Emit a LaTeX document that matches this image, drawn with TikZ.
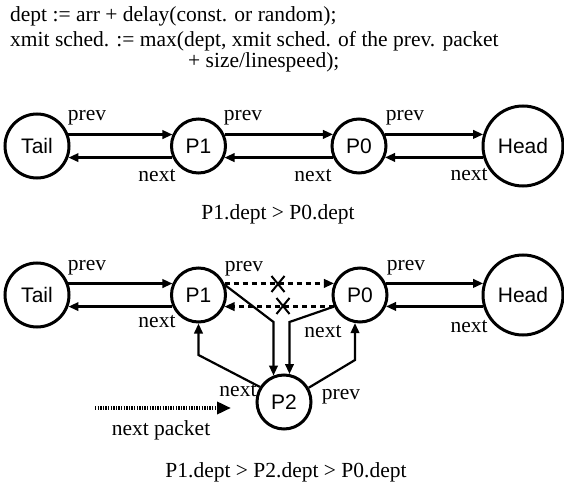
\documentclass[tikz,border=0pt]{standalone}
\usepackage{fontspec}
\setmainfont{Liberation Serif}
\newfontfamily\nodefont{Liberation Sans}
\usetikzlibrary{arrows.meta}
\begin{document}
\begin{tikzpicture}[x=1pt,y=-1pt,
  txt/.style={inner sep=0pt, font=\fontsize{21.5}{26}\selectfont},
  circ/.style={circle, draw, line width=3pt, inner sep=0pt, font=\nodefont\fontsize{21}{25}\selectfont},
  pnode/.style={circ, minimum size=54pt},
  tailnode/.style={circ, minimum size=64pt},
  headnode/.style={circ, minimum size=80pt},
  link/.style={line width=2.2pt, -{Triangle[length=10pt,width=8.5pt]}},
  dlink/.style={link, dash pattern=on 5pt off 4pt},
  cross/.style={line width=2pt},
  dotlink/.style={line width=4.5pt, dash pattern=on 1.4pt off 1.2pt, -{Triangle[length=14pt,width=12pt]}},
]
\useasboundingbox (0,0) rectangle (564,486);

% header
\node[txt, anchor=base west] (l1) at (10,22) {dept := arr + delay(const. or random);};
\node[txt, anchor=base west] (l2) at (10,47) {xmit sched. := max(dept, xmit sched. of the prev. packet};
\node[txt, anchor=base west] (l3) at (188,68) {+ size/linespeed);};

% top diagram
\node[tailnode] (tail) at (37,146) {Tail};
\node[pnode] (p1) at (198.5,146) {P1};
\node[pnode] (p0) at (359,146) {P0};
\node[headnode] (head) at (523,146) {Head};

\draw[link] (tail.20) -- (tail.20 -| p1.156);
\draw[link] (p1.204) -- (p1.204 -| tail.340);
\draw[link] (p1.24) -- (p1.24 -| p0.156);
\draw[link] (p0.204) -- (p0.204 -| p1.336);
\draw[link] (p0.24) -- (p0.24 -| head.164);
\draw[link] (head.196) -- (head.196 -| p0.336);

\node[txt] (tp1) at (87,118) {prev};
\node[txt] (tp2) at (243,118) {prev};
\node[txt] (tp3) at (405,118) {prev};
\node[txt] (tn1) at (157,176) {next};
\node[txt] (tn2) at (313,176) {next};
\node[txt] (tn3) at (469,175) {next};
\node[txt] (cap1) at (278,214) {P1.dept > P0.dept};

% bottom diagram
\node[tailnode] (tailb) at (37,295) {Tail};
\node[pnode] (p1b) at (198.5,295) {P1};
\node[pnode] (p0b) at (360,295) {P0};
\node[headnode] (headb) at (523,295) {Head};
\node[pnode] (p2) at (284,402) {P2};

\draw[link] (tailb.20) -- (tailb.20 -| p1b.156);
\draw[link] (p1b.204) -- (p1b.204 -| tailb.340);
\draw[dlink] (p1b.24) -- (p1b.24 -| p0b.156);
\draw[dlink] (p0b.204) -- (p0b.204 -| p1b.336);
\draw[link] (p0b.24) -- (p0b.24 -| headb.164);
\draw[link] (headb.196) -- (headb.196 -| p0b.336);

\coordinate (xa) at (278,284);
\coordinate (xb) at (283,306);
\draw[cross] ([shift={(-6.5pt,8pt)}]xa) -- ([shift={(6.5pt,-8pt)}]xa);
\draw[cross] ([shift={(-6.5pt,-8pt)}]xa) -- ([shift={(6.5pt,8pt)}]xa);
\draw[cross] ([shift={(-6.5pt,8pt)}]xb) -- ([shift={(6.5pt,-8pt)}]xb);
\draw[cross] ([shift={(-6.5pt,-8pt)}]xb) -- ([shift={(6.5pt,8pt)}]xb);

\coordinate (b1) at (273.5,322);
\coordinate (b2) at (289.5,322);
\coordinate (b3) at (198.5,355);
\coordinate (b4) at (355,360);
\draw[link] (p1b.20) -- (b1) -- (b1 |- p2.112);
\draw[link] (p0b.204) -- (b2) -- (b2 |- p2.79);
\draw[link] (p2.148) -- (b3) -- (p1b.south);
\draw[link] (p2.30) -- (b4) -- (b4 |- p0b.260);

\coordinate (np) at (95,408);
\coordinate (npe) at (231,408);
\draw[dotlink] (np) -- (npe);

\node[txt] (bp1) at (87,268) {prev};
\node[txt] (bp2) at (244,269) {prev};
\node[txt] (bp3) at (406,268) {prev};
\node[txt] (bn1) at (157,322) {next};
\node[txt] (bn2) at (323,332) {next};
\node[txt] (bn3) at (469,327) {next};
\node[txt] (bn4) at (238,391) {next};
\node[txt] (bp4) at (341,397) {prev};
\node[txt] (npl) at (161,430) {next packet};
\node[txt] (cap2) at (286,472) {P1.dept > P2.dept > P0.dept};
\end{tikzpicture}
\end{document}
